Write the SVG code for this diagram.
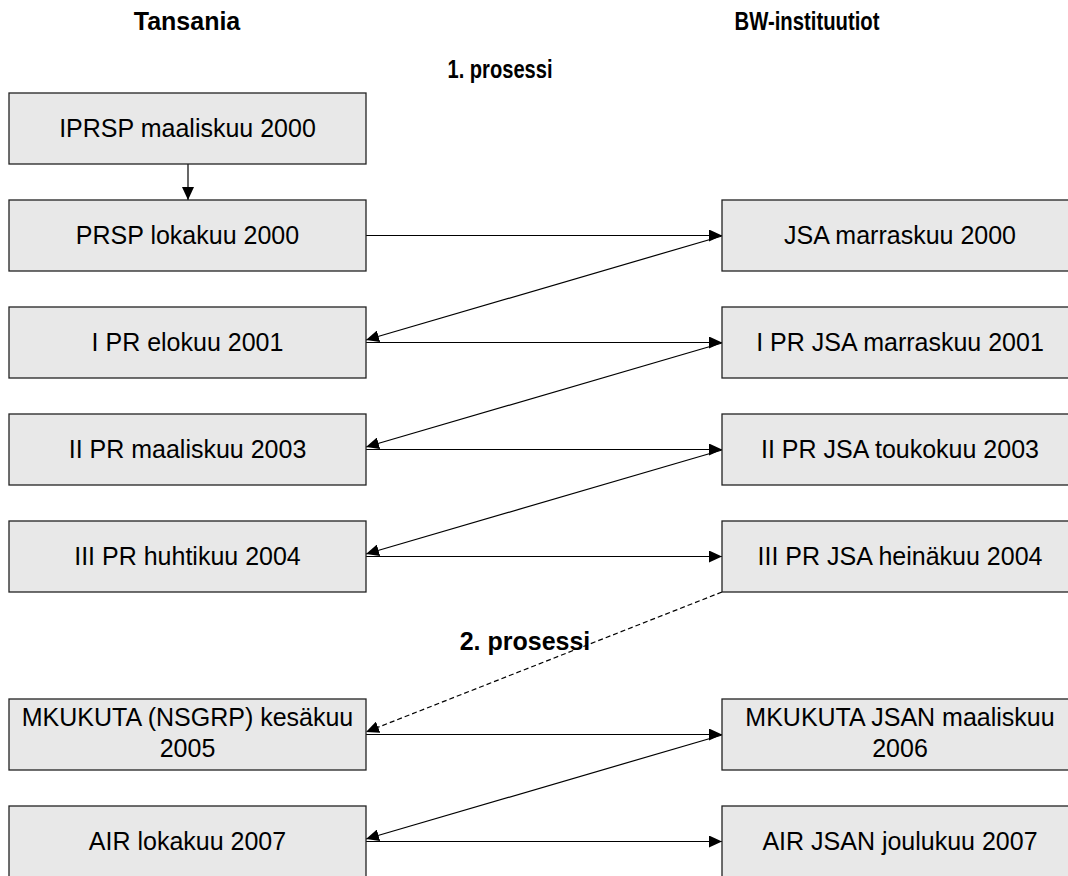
<svg xmlns="http://www.w3.org/2000/svg" width="1068" height="876" viewBox="0 0 1068 876">
<style>
.box{fill:#e8e8e8;stroke:#222;stroke-width:1.3}
.t{font-family:"Liberation Sans",Arial,sans-serif;font-size:25px;fill:#000;text-anchor:middle}
.h{font-family:"Liberation Sans",Arial,sans-serif;font-size:25px;font-weight:bold;fill:#000;text-anchor:middle}
.c{stroke:#000;stroke-width:1.2;fill:none;marker-end:url(#ah)}
.d{stroke-dasharray:5,3}
</style>
<defs>
<marker id="ah" markerUnits="userSpaceOnUse" markerWidth="14" markerHeight="12" refX="13" refY="6" orient="auto">
<path d="M0,0 L13,6 L0,12 z" fill="#000"/>
</marker>
</defs>
<rect width="1068" height="876" fill="#fff"/>
<text class="h" x="187" y="30">Tansania</text>
<text class="h" x="807" y="30" textLength="145" lengthAdjust="spacingAndGlyphs">BW-instituutiot</text>
<text class="h" x="500" y="78" textLength="105" lengthAdjust="spacingAndGlyphs">1. prosessi</text>
<text class="h" x="525" y="650">2. prosessi</text>
<g id="connectors">
<line class="c" x1="188" y1="164" x2="188" y2="200"/>
<line class="c" x1="366" y1="235.5" x2="722" y2="235.5"/>
<line class="c" x1="366" y1="342.5" x2="722" y2="342.5"/>
<line class="c" x1="366" y1="449.5" x2="722" y2="449.5"/>
<line class="c" x1="366" y1="556.5" x2="722" y2="556.5"/>
<line class="c" x1="366" y1="734.5" x2="722" y2="734.5"/>
<line class="c" x1="366" y1="841.5" x2="722" y2="841.5"/>
<line class="c" x1="722" y1="236" x2="366" y2="340"/>
<line class="c" x1="722" y1="343" x2="366" y2="447"/>
<line class="c" x1="722" y1="450" x2="366" y2="554"/>
<line class="c d" x1="722" y1="592" x2="366" y2="732"/>
<line class="c" x1="722" y1="735" x2="366" y2="839"/>
</g>
<g id="n1"><rect class="box" x="9" y="93" width="357" height="71"/><text class="t" x="187.5" y="137">IPRSP maaliskuu 2000</text></g>
<g id="n2"><rect class="box" x="9" y="200" width="357" height="71"/><text class="t" x="187.5" y="244">PRSP lokakuu 2000</text></g>
<g id="n3"><rect class="box" x="9" y="307" width="357" height="71"/><text class="t" x="187.5" y="351">I PR elokuu 2001</text></g>
<g id="n4"><rect class="box" x="9" y="414" width="357" height="71"/><text class="t" x="187.5" y="458">II PR maaliskuu 2003</text></g>
<g id="n5"><rect class="box" x="9" y="521" width="357" height="71"/><text class="t" x="187.5" y="565">III PR huhtikuu 2004</text></g>
<g id="n6"><rect class="box" x="9" y="699" width="357" height="71"/><text class="t" x="187.5" y="726">MKUKUTA (NSGRP) kesäkuu</text><text class="t" x="187.5" y="757">2005</text></g>
<g id="n7"><rect class="box" x="9" y="806" width="357" height="71"/><text class="t" x="187.5" y="850">AIR lokakuu 2007</text></g>
<g id="m1"><rect class="box" x="722" y="200" width="357" height="71"/><text class="t" x="900" y="244">JSA marraskuu 2000</text></g>
<g id="m2"><rect class="box" x="722" y="307" width="357" height="71"/><text class="t" x="900" y="351">I PR JSA marraskuu 2001</text></g>
<g id="m3"><rect class="box" x="722" y="414" width="357" height="71"/><text class="t" x="900" y="458">II PR JSA toukokuu 2003</text></g>
<g id="m4"><rect class="box" x="722" y="521" width="357" height="71"/><text class="t" x="900" y="565">III PR JSA heinäkuu 2004</text></g>
<g id="m5"><rect class="box" x="722" y="699" width="357" height="71"/><text class="t" x="900" y="726">MKUKUTA JSAN maaliskuu</text><text class="t" x="900" y="757">2006</text></g>
<g id="m6"><rect class="box" x="722" y="806" width="357" height="71"/><text class="t" x="900" y="850">AIR JSAN joulukuu 2007</text></g>
</svg>
